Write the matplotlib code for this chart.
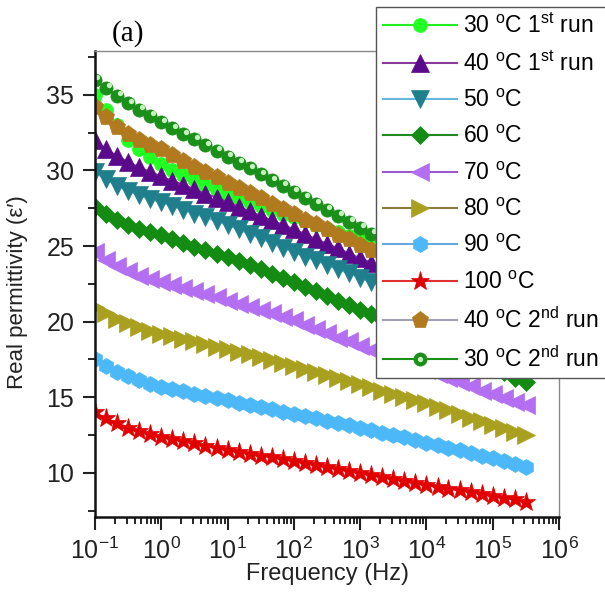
import matplotlib
matplotlib.use("Agg")
import matplotlib.pyplot as plt
from matplotlib.transforms import ScaledTranslation
from matplotlib.legend_handler import HandlerTuple

plt.rcParams['font.family'] = ['Liberation Sans', 'DejaVu Sans']
plt.rcParams['mathtext.fontset'] = 'custom'
plt.rcParams['mathtext.rm'] = 'Liberation Sans'
plt.rcParams['mathtext.it'] = 'Liberation Sans:italic'

# frequency sweep (Hz)
freq = [0.1, 0.147, 0.215, 0.316, 0.464, 0.681,
        1, 1.47, 2.15, 3.16, 4.64, 6.81,
        10, 14.7, 21.5, 31.6, 46.4, 68.1,
        100, 147, 215, 316, 464, 681,
        1e3, 1.47e3, 2.15e3, 3.16e3, 4.64e3, 6.81e3,
        1e4, 1.47e4, 2.15e4, 3.16e4, 4.64e4, 6.81e4,
        1e5, 1.47e5, 2.15e5, 3.16e5]

eps_30_run1 = [35.0, 34.0, 33.0, 32.0, 31.4, 30.9, 30.4, 30.05, 29.7, 29.4, 29.05, 28.7,
               28.4, 28.15, 27.9, 27.65, 27.4, 27.15, 26.9, 26.65, 26.4, 26.15, 25.9, 25.65,
               25.4, 25.15, 24.85, 24.6, 24.35, 24.05, 23.8, 23.55, 23.25, 23.0, 22.75, 22.45,
               22.2, 21.95, 21.65, 21.4]
eps_40_run1 = [32.0, 31.4, 30.95, 30.55, 30.2, 29.9, 29.6, 29.3, 29.05, 28.75, 28.45, 28.2,
               27.9, 27.6, 27.3, 27.0, 26.7, 26.4, 26.1, 25.8, 25.45, 25.15, 24.85, 24.5,
               24.2, 23.9, 23.55, 23.25, 22.95, 22.6, 22.3, 22.0, 21.65, 21.35, 21.05, 20.7,
               20.4, 20.1, 19.8, 19.5]
eps_50 = [29.9, 29.4, 29.0, 28.65, 28.35, 28.1, 27.9, 27.65, 27.4, 27.15, 26.9, 26.65,
          26.4, 26.1, 25.8, 25.5, 25.2, 24.9, 24.6, 24.3, 24.05, 23.75, 23.45, 23.2,
          22.9, 22.6, 22.3, 22.0, 21.7, 21.4, 21.1, 20.8, 20.5, 20.2, 19.9, 19.6,
          19.3, 19.0, 18.7, 18.4]
eps_60 = [27.6, 27.15, 26.75, 26.4, 26.1, 25.9, 25.7, 25.45, 25.2, 24.95, 24.75, 24.5,
          24.3, 24.0, 23.75, 23.45, 23.15, 22.9, 22.6, 22.3, 22.0, 21.7, 21.4, 21.1,
          20.8, 20.5, 20.2, 19.9, 19.6, 19.3, 19.0, 18.65, 18.35, 18.0, 17.65, 17.35,
          17.0, 16.65, 16.3, 16.0]
eps_70 = [24.6, 24.1, 23.7, 23.35, 23.05, 22.8, 22.6, 22.4, 22.2, 22.0, 21.8, 21.6,
          21.4, 21.2, 21.0, 20.75, 20.55, 20.3, 20.1, 19.8, 19.5, 19.25, 18.95, 18.7,
          18.4, 18.15, 17.85, 17.6, 17.35, 17.05, 16.8, 16.55, 16.25, 16.0, 15.75, 15.45,
          15.2, 14.95, 14.7, 14.5]
eps_80 = [21.0, 20.55, 20.2, 19.9, 19.65, 19.4, 19.2, 19.05, 18.85, 18.7, 18.5, 18.35,
          18.2, 18.0, 17.85, 17.65, 17.45, 17.3, 17.1, 16.9, 16.7, 16.5, 16.3, 16.1,
          15.9, 15.7, 15.45, 15.25, 15.05, 14.8, 14.6, 14.35, 14.15, 13.9, 13.65, 13.45,
          13.2, 12.95, 12.7, 12.5]
eps_90 = [17.5, 17.05, 16.7, 16.4, 16.15, 15.9, 15.7, 15.55, 15.4, 15.25, 15.1, 14.95,
          14.8, 14.65, 14.5, 14.35, 14.2, 14.05, 13.9, 13.75, 13.6, 13.45, 13.3, 13.15,
          13.0, 12.85, 12.65, 12.5, 12.35, 12.15, 12.0, 11.85, 11.65, 11.5, 11.35, 11.15,
          11.0, 10.8, 10.6, 10.4]
eps_100 = [14.0, 13.6, 13.3, 13.0, 12.8, 12.6, 12.4, 12.25, 12.1, 11.95, 11.8, 11.65,
           11.5, 11.4, 11.25, 11.15, 11.05, 10.9, 10.8, 10.65, 10.5, 10.4, 10.25, 10.15,
           10.0, 9.85, 9.75, 9.6, 9.45, 9.35, 9.2, 9.1, 8.95, 8.85, 8.75, 8.6,
           8.5, 8.35, 8.25, 8.1]
eps_40_run2 = [34.2, 33.5, 32.9, 32.4, 32.0, 31.7, 31.4, 31.0, 30.6, 30.25, 29.9, 29.55,
               29.2, 28.85, 28.5, 28.15, 27.8, 27.45, 27.1, 26.75, 26.45, 26.1, 25.75, 25.45,
               25.1, 24.75, 24.45, 24.1, 23.75, 23.45, 23.1, 22.8, 22.45, 22.15, 21.85, 21.5,
               21.2, 20.9, 20.6, 20.3]
eps_30_run2 = [36.0, 35.45, 34.95, 34.45, 34.0, 33.6, 33.2, 32.8, 32.4, 32.05, 31.65, 31.3,
               30.9, 30.5, 30.15, 29.75, 29.35, 29.0, 28.6, 28.2, 27.8, 27.4, 27.0, 26.6,
               26.2, 25.8, 25.4, 25.05, 24.65, 24.25, 23.9, 23.55, 23.15, 22.8, 22.45, 22.05,
               21.7, 21.35, 20.95, 20.6]

labels = [r'30 $^{\mathrm{o}}$C 1$^{\mathrm{st}}$ run',
          r'40 $^{\mathrm{o}}$C 1$^{\mathrm{st}}$ run',
          r'50 $^{\mathrm{o}}$C', r'60 $^{\mathrm{o}}$C', r'70 $^{\mathrm{o}}$C',
          r'80 $^{\mathrm{o}}$C', r'90 $^{\mathrm{o}}$C', r'100 $^{\mathrm{o}}$C',
          r'40 $^{\mathrm{o}}$C 2$^{\mathrm{nd}}$ run',
          r'30 $^{\mathrm{o}}$C 2$^{\mathrm{nd}}$ run']
series = [eps_30_run1, eps_40_run1, eps_50, eps_60, eps_70,
          eps_80, eps_90, eps_100, eps_40_run2, eps_30_run2]
markers = ['o', '^', 'v', 'D', '<', '>', 'h', '*', 'p', 'o']
msizes = [10, 12.5, 12.5, 9.5, 12.5, 12.5, 11.5, 14, 12.5, 9.5]
mcolors = ['#22ff22', '#5a0a8a', '#1f7f8c', '#148c14', '#b36ef2',
           '#aaa020', '#4db8f8', '#e00000', '#b27a1e', '#1a8f1a']
lcolors = ['#22ee22', '#8a3a9a', '#66b8e0', '#208a20', '#9a5acc',
           '#8a7c3a', '#66aadd', '#e03030', '#a0a0b4', '#1a8f1a']

fig = plt.figure(figsize=(6.05, 5.92), dpi=100)
ax = fig.add_axes([0.157, 0.127, 0.767, 0.787])

handles = []
for y, lab, m, ms, mc, lc in zip(series, labels, markers, msizes, mcolors, lcolors):
    h, = ax.plot(freq, y, color=lc, lw=1.5, marker=m, ms=ms, mfc=mc, mec=mc,
                 mew=0.5, label=lab)
    handles.append(h)

# glossy highlight on the 2nd-run 30 C spheres
shift = ax.transData + ScaledTranslation(1.8 / 72, 1.8 / 72, fig.dpi_scale_trans)
hl, = ax.plot(freq, eps_30_run2, ls='none', marker='o', ms=3.8,
              mfc='#c4f2bc', mec='none', transform=shift)
handles[-1] = (handles[-1], hl)

ax.set_xscale('log')
ax.set_xlim(0.1, 1e6)
ax.set_ylim(7.1, 37.9)
ax.set_yticks([10, 15, 20, 25, 30, 35])
ax.set_yticks([7.5, 12.5, 17.5, 22.5, 27.5, 32.5, 37.5], minor=True)
ax.set_xticks([10.0 ** k for k in range(-1, 7)])
ax.set_xticklabels([r'$10^{%d}$' % k for k in range(-1, 7)])

ax.tick_params(axis='both', which='major', direction='out', length=9, width=1.5,
               labelsize=18, colors='#222222', pad=6)
ax.tick_params(axis='both', which='minor', direction='out', length=5, width=1.2)
for s in ['left', 'bottom']:
    ax.spines[s].set_linewidth(1.8)
    ax.spines[s].set_color('#111111')
for s in ['top', 'right']:
    ax.spines[s].set_linewidth(1.0)
    ax.spines[s].set_color('#888888')

ax.set_xlabel('Frequency (Hz)', fontsize=17, labelpad=-1, color='#222222')
ax.set_ylabel('Real permittivity (ε′)', fontsize=16, color='#222222')
ax.yaxis.set_label_coords(-0.145, 0.483)

fig.text(0.212, 0.944, '(a)', fontsize=21, family='Liberation Serif',
         ha='center', va='center')

leg = fig.legend(handles, labels, loc='upper left', bbox_to_anchor=(0.622, 0.988),
                 fontsize=16.5, frameon=True, fancybox=False, framealpha=1,
                 edgecolor='#555555', handlelength=3.2, handletextpad=0.3,
                 labelspacing=0.58, borderpad=0.3, borderaxespad=0,
                 handler_map={tuple: HandlerTuple(ndivide=1)})
leg.get_frame().set_linewidth(1.0)

fig.savefig('out.png', dpi=100)
